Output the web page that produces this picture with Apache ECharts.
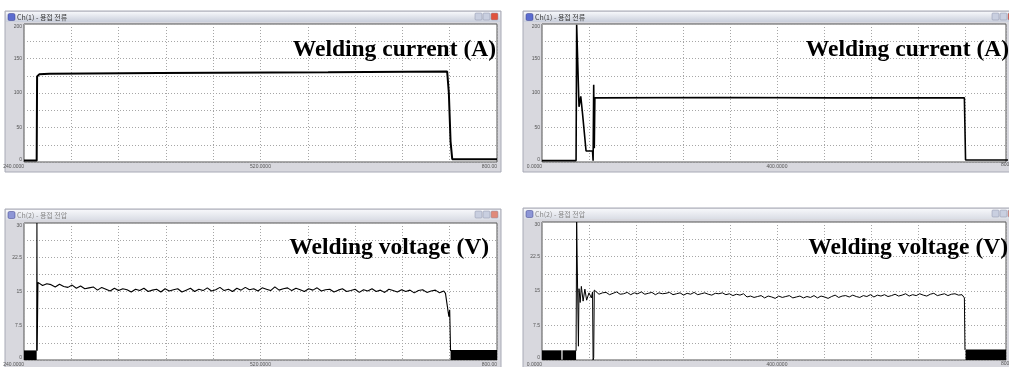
<!DOCTYPE html>
<html>
<head>
<meta charset="utf-8">
<script src="https://cdn.jsdelivr.net/npm/echarts@6/dist/echarts.min.js"></script>
<style>
html,body{margin:0;padding:0;background:#fff}
#chart{width:1009px;height:367px}
</style>
</head>
<body>
<div id="chart"></div>
<script>
// tick labels
var xTicksL = [240, 520, 800];
var xLabelsL = ['240.0000', '520.0000', '800.00'];
var xTicksR = [0, 400, 800];
var xLabelsR = ['0.0000', '400.0000', '800.00'];
var curTicks = [0, 50, 100, 150, 200];
var curLabels = ['0', '50', '100', '150', '200'];
var voltTicks = [0, 7.5, 15, 22.5, 30];
var voltLabels = ['0', '7.5', '15', '22.5', '30'];

// welding current, run 1 (left) and run 2 (right)  [time, A]
var currentL = [[240,2],[255,2],[255.5,124],[258,127],[270,128],[400,129],[600,130],[741,131],[743,100],[745,30],[747,4],[800,4]];
var currentR = [[0,2],[58,2],[59,199],[61,199],[63,80],[66,95],[69,70],[75,16],[86,16],[87,2],[88,112],[89,20],[90,93],[300,93.5],[500,93],[719,93],[721,3],[800,3]];

// welding voltage, run 1  [time, V]
var voltLHead = [[255,2],[255.3,30],[255.6,2],[256.5,17]];
var voltLStart = 257, voltLStep = 5;
var voltL = [
  16.9,16.3,16.7,16.5,16.0,16.6,16.1,15.9,16.4,15.7,
  16.2,15.6,15.8,16.0,15.3,15.9,15.5,15.1,15.7,15.2,
  15.6,15.4,14.9,15.5,15.2,15.7,15.0,15.3,15.5,14.9,
  15.6,15.1,15.4,15.6,14.9,15.3,15.7,15.0,15.5,15.2,
  15.8,15.1,15.4,15.9,15.2,15.5,15.0,15.7,15.3,15.9,
  15.4,15.6,15.1,15.8,15.5,15.2,16.0,15.3,15.6,15.8,
  15.2,15.7,15.4,15.0,15.6,15.3,15.8,15.1,15.4,15.5,
  14.9,15.3,15.6,15.0,15.2,15.5,14.8,15.4,15.1,15.6,
  15.0,15.3,14.8,15.5,15.2,14.9,15.4,15.0,15.3,14.7,
  15.2,15.4,14.8,15.1,15.3,14.7,15.1
];
var voltLTail = [[739,14.6],[741,12],[743,9.5],[744,11],[745,2]];
var voltLBlocks = [[[240,2.1],[255,2.1]], [[745,2.2],[800,2.2]]];

// welding voltage, run 2
var voltRHead = [[58,2],[59,30],[61,30],[62,3],[63,15.5],[65,12.5],[67,16],[70,12.8],[73,15.4],[76,13.0],[80,14.6],[84,13.5],[86,14.8],[87,0],[88,0.5],[89,15.2]];
var voltRStart = 91, voltRStep = 6;
var voltR = [
  14.8,14.3,14.6,14.7,14.2,14.5,14.8,14.3,14.4,14.7,14.2,14.6,14.4,14.8,14.3,14.5,14.7,14.2,14.6,14.4,
  14.5,14.7,14.2,14.4,14.6,14.1,14.5,14.3,14.7,14.2,14.4,14.6,14.3,14.1,14.5,14.4,14.6,14.2,14.4,14.0,
  14.3,14.1,14.4,13.7,13.9,13.6,13.8,14.0,13.5,13.9,13.7,13.4,13.9,13.6,13.8,14.0,13.5,13.7,13.9,13.5,
  13.8,13.6,14.0,13.5,13.9,13.7,13.4,13.8,14.1,13.6,13.9,14.0,13.7,14.1,13.8,13.6,14.0,13.8,14.2,13.7,
  14.1,13.9,14.2,13.8,14.0,14.3,13.9,14.1,14.4,13.9,14.2,14.0,14.4,14.1,13.9,14.3,14.5,14.0,14.2,14.4,14.0,14.3,14.4,14.1,14.2
];
var voltRTail = [[717,14.2],[719,13.5],[720,2.2]];
var voltRBlocks = [[[0,2.1],[33,2.1]], [[35,2.1],[58,2.1]], [[721,2.3],[800,2.3]]];

function sampled(t0, step, vals) {
  return vals.map(function (v, i) { return [t0 + i * step, v]; });
}

var myChart = echarts.init(document.getElementById('chart'));

// the right-hand windows run past the edge of the picture: only 467 of the 473 px plot width is visible
var rightMax = 800 * 467 / 473;

var grids = [
  {left: 24, top: 24, width: 473, height: 138},
  {left: 542, top: 24, right: 0, height: 138},
  {left: 24, top: 223, width: 473, height: 139},
  {left: 542, top: 222, right: 0, height: 139}
];
grids.forEach(function (g) {
  g.show = true; g.backgroundColor = '#fff'; g.borderColor = '#555'; g.borderWidth = 1;
});

function pick(ticks, labels) {
  return function (v) {
    for (var i = 0; i < ticks.length; i++) {
      if (Math.abs(ticks[i] - v) < 1e-6) return labels[i];
    }
    return '';
  };
}
var gridLine = {show: true, lineStyle: {color: '#a6a6a6', type: [1, 2], width: 1}};

function xAxis(gi, min, max, step, ticks, labels) {
  return {
    type: 'value', gridIndex: gi, min: min, max: max, interval: step,
    axisLine: {show: false}, axisTick: {show: false}, splitLine: gridLine,
    axisLabel: {fontSize: 5, color: '#555', margin: 2, showMinLabel: true, showMaxLabel: true,
      alignMinLabel: 'right', alignMaxLabel: 'right', formatter: pick(ticks, labels)}
  };
}
function yAxis(gi, max, step, ticks, labels) {
  return {
    type: 'value', gridIndex: gi, min: 0, max: max, interval: step,
    axisLine: {show: false}, axisTick: {show: false}, splitLine: gridLine,
    axisLabel: {fontSize: 5, color: '#555', margin: 2, showMinLabel: true, showMaxLabel: true,
      verticalAlignMinLabel: 'bottom', verticalAlignMaxLabel: 'top', formatter: pick(ticks, labels)}
  };
}

function line(gi, data, w) {
  return {type: 'line', xAxisIndex: gi, yAxisIndex: gi, data: data, symbol: 'none',
    lineStyle: {color: '#000', width: w}, z: 5};
}
function block(gi, data) {
  return {type: 'line', xAxisIndex: gi, yAxisIndex: gi, data: data, symbol: 'none',
    lineStyle: {width: 0}, areaStyle: {color: '#000', opacity: 1}, z: 4};
}

// window frames (screen-capture chrome)
function chrome(x, y, w, h, title, active) {
  var els = [];
  els.push({type: 'rect', z: -10, shape: {x: x, y: y, width: w, height: h},
    style: {fill: '#d8d8de', stroke: '#a8aab6', lineWidth: 1}});
  els.push({type: 'rect', z: -9, shape: {x: x + 1, y: y + 1, width: w - 2, height: 10},
    style: {fill: new echarts.graphic.LinearGradient(0, 0, 0, 1, [
      {offset: 0, color: '#f6f7fa'}, {offset: 1, color: active ? '#c9cedb' : '#dadde5'}])}});
  els.push({type: 'rect', z: -8, shape: {x: x + 3, y: y + 2.5, width: 7, height: 7, r: 1.5},
    style: {fill: active ? '#5b6ccf' : '#8d96d6', stroke: '#3a3f8a', lineWidth: 0.5}});
  els.push({type: 'text', z: -8, x: x + 12, y: y + 6,
    style: {text: title, fontSize: 7, fill: active ? '#333' : '#888',
      fontFamily: 'Noto Sans CJK KR', verticalAlign: 'middle'}});
  var bx = x + w - 26;
  ['#c9cfe0', '#c9cfe0', active ? '#e0533d' : '#e08a7a'].forEach(function (c, i) {
    els.push({type: 'rect', z: -8, shape: {x: bx + i * 8, y: y + 2, width: 7, height: 7, r: 1},
      style: {fill: c, stroke: '#8c93ab', lineWidth: 0.5}});
  });
  return els;
}

var notes = [
  {text: 'Welding current (A)', x: 496, y: 50},
  {text: 'Welding current (A)', x: 1009, y: 50},
  {text: 'Welding voltage (V)', x: 489, y: 248},
  {text: 'Welding voltage (V)', x: 1008, y: 248}
].map(function (n) {
  return {type: 'text', z: 100, x: n.x, y: n.y,
    style: {text: n.text, fontSize: 23.5, fontWeight: 'bold',
      fontFamily: '"Liberation Serif", "Times New Roman", serif',
      fill: '#000', align: 'right', verticalAlign: 'middle'}};
});

// "800" of the right-hand windows is cut off by the picture edge
var cutLabels = [{x: 1001, y: 165}, {x: 1001, y: 364}].map(function (p) {
  return {type: 'text', z: 50, x: p.x, y: p.y,
    style: {text: xLabelsR[2], fontSize: 5, fill: '#555', verticalAlign: 'middle'}};
});

var graphics = [].concat(
  chrome(5, 11, 496, 161, 'Ch(1) - 용접 전류', true),
  chrome(523, 11, 495, 161, 'Ch(1) - 용접 전류', true),
  chrome(5, 209, 496, 160, 'Ch(2) - 용접 전압', false),
  chrome(523, 208, 495, 161, 'Ch(2) - 용접 전압', false),
  notes,
  cutLabels
);

var series = [
  line(0, currentL, 2),
  line(1, currentR, 1.6),
  line(2, voltLHead.concat(sampled(voltLStart, voltLStep, voltL), voltLTail), 1.1),
  line(3, voltRHead.concat(sampled(voltRStart, voltRStep, voltR), voltRTail), 1)
];
voltLBlocks.forEach(function (b) { series.push(block(2, b)); });
voltRBlocks.forEach(function (b) { series.push(block(3, b)); });

myChart.setOption({
  animation: false,
  backgroundColor: '#fff',
  grid: grids,
  xAxis: [
    xAxis(0, 240, 800, 56, xTicksL, xLabelsL),
    xAxis(1, 0, rightMax, 80, xTicksR, xLabelsR),
    xAxis(2, 240, 800, 56, xTicksL, xLabelsL),
    xAxis(3, 0, rightMax, 80, xTicksR, xLabelsR)
  ],
  yAxis: [
    yAxis(0, 200, 25, curTicks, curLabels),
    yAxis(1, 200, 25, curTicks, curLabels),
    yAxis(2, 30, 3.75, voltTicks, voltLabels),
    yAxis(3, 30, 3.75, voltTicks, voltLabels)
  ],
  graphic: graphics,
  series: series
});

window.addEventListener('resize', function () {
  myChart.resize();
});
</script>
</body>
</html>
